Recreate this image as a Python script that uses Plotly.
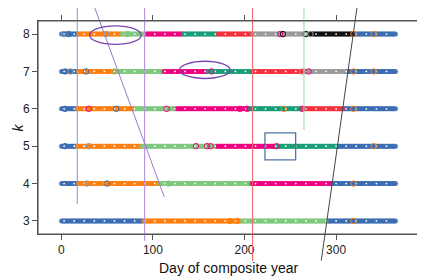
import plotly.graph_objects as go

# ---------------- data ----------------
K_VALUES = [3, 4, 5, 6, 7, 8]
# segment breaks (day) and cluster of each segment, per k
ROW_BREAKS = {
    8: [0, 19, 66, 93, 133, 171, 209, 272, 319, 366],
    7: [0, 19, 62, 112, 160, 209, 269, 311, 366],
    6: [0, 17, 81, 126, 206, 264, 308, 366],
    5: [0, 17, 88, 170, 235, 301, 366],
    4: [0, 19, 108, 208, 294, 366],
    3: [0, 90, 197, 290, 366],
}
ROW_CLUSTERS = {
    8: ["blue", "orange", "lgreen", "pink", "teal", "red", "gray", "black", "blue"],
    7: ["blue", "orange", "lgreen", "pink", "teal", "red", "gray", "blue"],
    6: ["blue", "orange", "lgreen", "pink", "teal", "red", "blue"],
    5: ["blue", "orange", "lgreen", "pink", "teal", "blue"],
    4: ["blue", "orange", "lgreen", "pink", "blue"],
    3: ["blue", "orange", "lgreen", "blue"],
}
# open circles (secondary membership): k, day, cluster
OPEN_K = [8, 8, 8, 8, 8, 8, 8, 8, 8, 8,
          7, 7, 7, 7, 7, 7, 7, 7, 7,
          6, 6, 6, 6, 6, 6, 6, 6, 6,
          5, 5, 5, 5, 5, 5, 5,
          4, 4, 4, 4,
          3, 3, 3]
OPEN_DAY = [3, 8, 49, 72, 239, 242, 267, 272, 319, 341,
            4, 10, 27, 58, 164, 263, 270, 319, 341,
            4, 30, 60, 115, 195, 203, 243, 263, 319, 341,
            4, 30, 147, 159, 163, 235, 319,
            28, 50, 117, 319,
            184, 192, 299]
OPEN_CL = ["gray", "blue", "gray", "lgreen", "pink", "black", "black", "gray", "orange", "orange",
           "blue", "gray", "blue", "lgreen", "pink", "gray", "pink", "orange", "orange",
           "blue", "pink", "blue", "pink", "pink", "pink", "orange", "pink", "orange", "orange",
           "blue", "gray", "pink", "pink", "pink", "pink", "orange",
           "gray", "blue", "lgreen", "orange",
           "orange", "orange", "lgreen"]
WHITE_DAYS = list(range(3, 366, 11))

COLORS = {
    "blue": "#3B6DB4", "orange": "#FF7F0E", "lgreen": "#7FC97F", "pink": "#F0027F",
    "teal": "#1B9E77", "red": "#F5313D", "gray": "#9A9A9A", "black": "#111111",
}

X_TICKS = [0, 100, 200, 300]
X_RANGE = [-25.5, 390.5]
Y_RANGE = [2.65, 8.35]

# annotation shapes in data units (day, k)
VLINES = [  # day, k_top, k_bottom, color
    (17.4, 8.90, 3.45, "#86A6D6"),
    (90.9, 8.90, 2.47, "#B393D8"),
    (208.8, 8.90, 1.93, "#F26A6A"),
    (264.9, 8.90, 5.43, "#A3DDA9"),
]
SLANTS = [  # day0, k0, day1, k1, color
    (33.5, 8.90, 112.4, 3.64, "#9B7CC8"),
    (323.9, 8.90, 283.8, 1.94, "#444444"),
]
ELLIPSES = [(30.8, 87.2, 7.726, 8.217), (129.1, 184.4, 6.811, 7.273)]
RECTS = [(222.3, 255.8, 4.636, 5.357)]

# ---------------- build figure ----------------
def px(d):
    return (d - X_RANGE[0]) / (X_RANGE[1] - X_RANGE[0])

def py(k):
    return (k - Y_RANGE[0]) / (Y_RANGE[1] - Y_RANGE[0])

fig = go.Figure()

# bands
for cl, col in COLORS.items():
    xs, ys = [], []
    for k in K_VALUES:
        br = ROW_BREAKS[k]
        for i, c in enumerate(ROW_CLUSTERS[k]):
            if c != cl:
                continue
            for d in range(br[i], br[i + 1]):
                xs.append(d)
                ys.append(k)
    if xs:
        fig.add_trace(go.Scatter(x=xs, y=ys, mode="markers", hoverinfo="skip",
                                 marker=dict(size=5, color=col, opacity=0.7, line=dict(width=0)),
                                 showlegend=False))

# white dots
wx, wy = [], []
for k in K_VALUES:
    for d in WHITE_DAYS:
        wx.append(d)
        wy.append(k)
fig.add_trace(go.Scatter(x=wx, y=wy, mode="markers", hoverinfo="skip",
                         marker=dict(size=1.8, color="white", line=dict(width=0)),
                         showlegend=False))

# open circles
fig.add_trace(go.Scatter(x=OPEN_DAY, y=OPEN_K, mode="markers", hoverinfo="skip",
                         marker=dict(symbol="circle-open", size=5.5,
                                     color=[COLORS[c] for c in OPEN_CL],
                                     line=dict(width=1)),
                         showlegend=False))

shapes = []
for d, k0, k1, col in VLINES:
    shapes.append(dict(type="line", xref="paper", yref="paper", x0=px(d), x1=px(d),
                       y0=py(k0), y1=py(k1), line=dict(color=col, width=1.1)))
for d0, k0, d1, k1, col in SLANTS:
    shapes.append(dict(type="line", xref="paper", yref="paper", x0=px(d0), x1=px(d1),
                       y0=py(k0), y1=py(k1), line=dict(color=col, width=1)))
for d0, d1, k0, k1 in ELLIPSES:
    shapes.append(dict(type="circle", xref="paper", yref="paper", x0=px(d0), x1=px(d1),
                       y0=py(k0), y1=py(k1), line=dict(color="#7A45AE", width=1.3)))
for d0, d1, k0, k1 in RECTS:
    shapes.append(dict(type="rect", xref="paper", yref="paper", x0=px(d0), x1=px(d1),
                       y0=py(k0), y1=py(k1), line=dict(color="#4F74A8", width=1.3)))
# panel frame
shapes.append(dict(type="rect", xref="paper", yref="paper", x0=0, x1=1, y0=0, y1=1,
                   line=dict(color="#555555", width=1.2), layer="above"))

axis_common = dict(ticks="outside", ticklen=5, tickwidth=1, tickcolor="#555555",
                   showline=True, linecolor="#555555", linewidth=1, mirror="allticks",
                   showgrid=False, zeroline=False, automargin=False,
                   tickfont=dict(family="Liberation Sans, Arial", size=12, color="#222222"))

# the page body adds an 8 px offset, so the figure is made 8 px smaller
fig.update_layout(
    width=417, height=272,
    margin=dict(l=30, r=6, t=13, b=46, autoexpand=False),
    paper_bgcolor="white", plot_bgcolor="white",
    shapes=shapes,
    xaxis=dict(range=X_RANGE, tickvals=X_TICKS, ticktext=[str(v) for v in X_TICKS],
               **axis_common),
    yaxis=dict(range=Y_RANGE, tickvals=K_VALUES, ticktext=[str(v) for v in K_VALUES],
               **axis_common),
    annotations=[
        dict(text="Day of composite year", xref="paper", yref="paper", x=0.5, y=0,
             yshift=-34, xanchor="center", yanchor="middle", showarrow=False,
             font=dict(family="Liberation Sans, Arial", size=14, color="#111111")),
        dict(text="<i>k</i>", xref="paper", yref="paper", x=0, y=0.5,
             xshift=-21, xanchor="center", yanchor="middle", showarrow=False, textangle=-90,
             font=dict(family="Liberation Sans, Arial", size=14, color="#111111")),
    ],
)

fig.write_html("out.html")
